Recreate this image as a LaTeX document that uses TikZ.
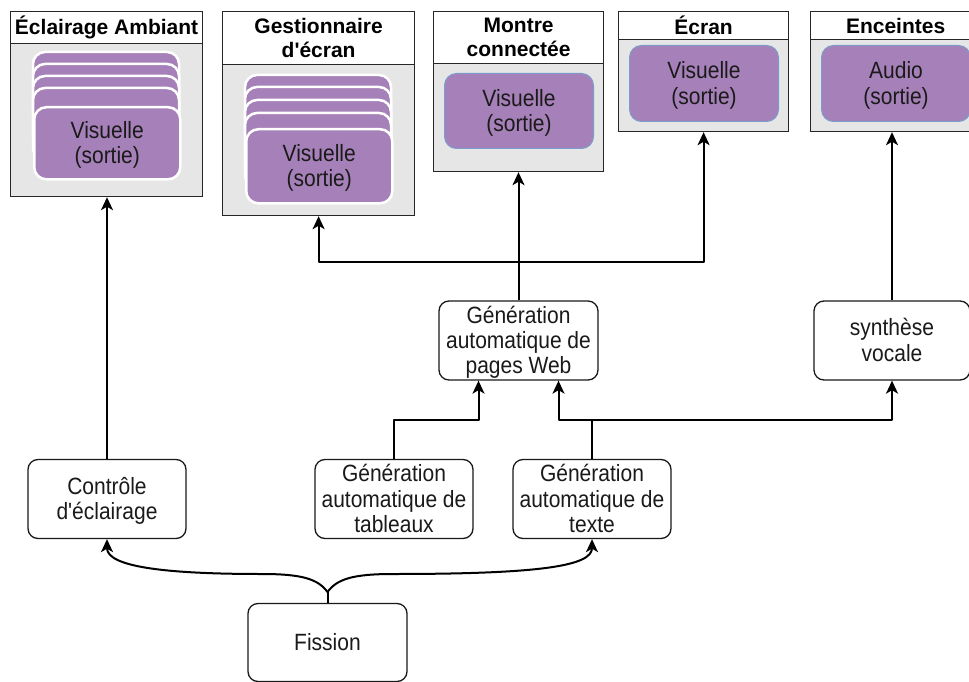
\documentclass[tikz,border=0pt]{standalone}
\usepackage{fontspec}
\setmainfont{Liberation Sans}
\usetikzlibrary{arrows.meta,calc}
\definecolor{purp}{HTML}{A680B8}
\definecolor{contgray}{HTML}{E6E6E6}
\definecolor{bluebd}{HTML}{7C9CCB}
\definecolor{txtc}{HTML}{1A1A1A}
\font\aprR="Liberation Sans" at 21pt
\font\aprB="Liberation Sans/B" at 21pt
\newcommand\aposR{{\aprR\char"27}}
\newcommand\aposB{{\aprB\char"27}}
\newcommand\vtxt[1]{\raisebox{-3pt}[\height][\depth]{\scalebox{1}[1.12]{\begin{tabular}{@{}c@{}}#1\end{tabular}}}}
\begin{document}
\begin{tikzpicture}[x=1pt,y=-1pt,
 cont/.style={draw=black!85, fill=contgray, line width=1.2pt, anchor=north west, inner sep=0pt},
 hdr/.style={draw=black!85, fill=white, line width=1.2pt, anchor=north west, inner sep=0pt, font=\fontsize{21}{24}\selectfont\bfseries, align=center, text=black},
 card/.style={draw=white, fill=purp, line width=2.5pt, rounded corners=12pt},
 cardtxt/.style={card, anchor=north west, inner sep=0pt, font=\fontsize{21}{22.5}\selectfont, align=center, text=txtc},
 pbox/.style={draw=bluebd, fill=purp, line width=1pt, rounded corners=12pt, anchor=north west, inner sep=0pt, font=\fontsize{21}{22.5}\selectfont, align=center, text=txtc},
 box/.style={draw=black!90, fill=white, line width=1.3pt, rounded corners=10pt, minimum width=158pt, minimum height=79pt, inner sep=0pt, align=center, font=\fontsize{21}{22.5}\selectfont, text=txtc},
 conn/.style={line width=2pt, line join=round, -{Stealth[length=13pt,width=12pt,inset=3.5pt]}},
 stem/.style={line width=2pt}
]
\useasboundingbox (0,0) rectangle (969,682);
\clip (0,0) rectangle (969,682);
\fill[white] (0,0) rectangle (969,682);

% Eclairage Ambiant
\node[cont, minimum width=192pt, minimum height=185pt] (ecl) at (10,11) {};
\node[hdr, minimum width=192pt, minimum height=32pt] (eclh) at (10,11) {Éclairage Ambiant};
\foreach \t in {52,64,76,88} \draw[card] (33,\t) rectangle ++(146,72);
\node[cardtxt, minimum width=146pt, minimum height=72pt] (eclv) at (33,106) {\vtxt{Visuelle\\(sortie)}};

% Gestionnaire d'ecran
\node[cont, minimum width=192pt, minimum height=204pt] (ges) at (222,11) {};
\node[hdr, minimum width=192pt, minimum height=53pt] (gesh) at (222,11) {Gestionnaire\\d\aposB écran};
\foreach \t in {75,87,100,113} \draw[card] (245,\t) rectangle ++(146,74);
\node[cardtxt, minimum width=146pt, minimum height=74pt] (gesv) at (245,128) {\vtxt{Visuelle\\(sortie)}};

% Montre connectee
\node[cont, minimum width=170pt, minimum height=160pt] (mon) at (433,11) {};
\node[hdr, minimum width=170pt, minimum height=52pt] (monh) at (433,11) {Montre\\connectée};
\node[pbox, minimum width=149pt, minimum height=75pt] (monv) at (444,73) {\vtxt{Visuelle\\(sortie)}};

% Ecran
\node[cont, minimum width=170pt, minimum height=120pt] (ecr) at (618,11) {};
\node[hdr, minimum width=170pt, minimum height=28pt] (ecrh) at (618,11) {Écran};
\node[pbox, minimum width=149pt, minimum height=76pt] (ecrv) at (629,45) {\vtxt{Visuelle\\(sortie)}};

% Enceintes
\node[cont, minimum width=170pt, minimum height=120pt] (enc) at (810,11) {};
\node[hdr, minimum width=170pt, minimum height=28pt] (ench) at (810,11) {Enceintes};
\node[pbox, minimum width=149pt, minimum height=76pt] (encv) at (821,45) {\vtxt{Audio\\(sortie)}};

% lower nodes
\node[box] (ctl) at (107,499) {\vtxt{Contrôle\\d\aposR éclairage}};
\node[box] (tab) at (394,499) {\vtxt{Génération\\automatique de\\tableaux}};
\node[box] (txt) at (592,499) {\vtxt{Génération\\automatique de\\texte}};
\node[box, minimum width=159pt] (pw) at (518.5,340.5) {\vtxt{Génération\\automatique de\\pages Web}};
\node[box, minimum width=156pt] (syn) at (892,340.5) {\vtxt{synthèse\\vocale}};
\node[box, minimum width=159pt, minimum height=78pt] (fis) at (327.5,642.5) {\vtxt{Fission}};

% connectors
\coordinate (busW) at (518.5,262);
\coordinate (lvl) at (0,420);
\coordinate (pwL) at ($(pw.south)+(-40,0)$);
\coordinate (pwR) at ($(pw.south)+(40,0)$);
\coordinate (fj) at (327.5,592);

\draw[conn] (ctl.north) -- (ctl.north |- ecl.south);
\draw[conn] (pw.north) -- (pw.north |- mon.south);
\draw[conn] (pw.north) -- (pw.north |- busW) -| (ges.south);
\draw[conn] (pw.north) -- (pw.north |- busW) -| (ecr.south);
\draw[conn] (tab.north) -- (tab.north |- lvl) -| (pwL);
\draw[conn] (txt.north) -- (txt.north |- lvl) -| (pwR);
\draw[conn] (txt.north) -- (txt.north |- lvl) -| (syn.south);
\draw[conn] (syn.north) -- (syn.north |- enc.south);

\draw[stem] (fis.north) -- (fj);
\draw[conn] (fj) .. controls (318,579) and (302,574) .. (262,574) .. controls (160,574) and (107,566) .. (ctl.south);
\draw[conn] (fj) .. controls (337,579) and (353,574) .. (393,574) .. controls (540,574) and (592,566) .. (txt.south);
\end{tikzpicture}
\end{document}
